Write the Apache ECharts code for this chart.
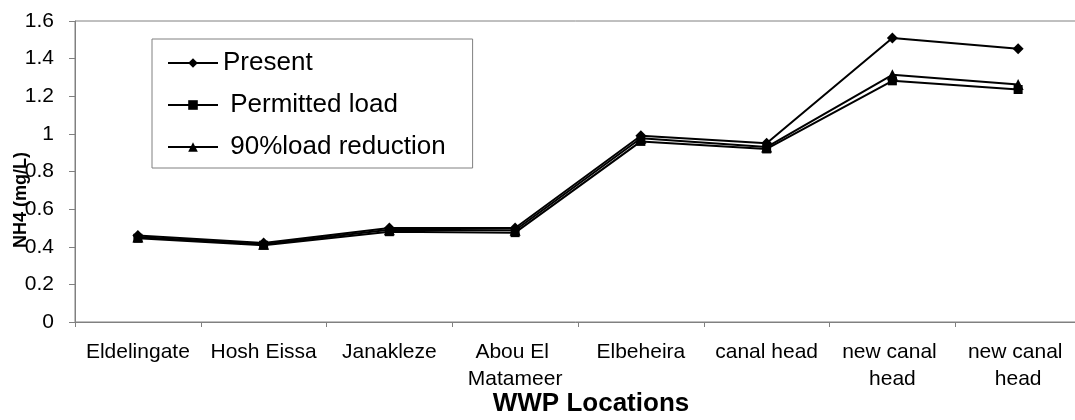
<!DOCTYPE html>
<html>
<head>
<meta charset="utf-8">
<script src="https://cdn.jsdelivr.net/npm/echarts@6/dist/echarts.min.js"></script>
<style>html,body{margin:0;padding:0;background:#fff;}#c{width:1075px;height:420px;}</style>
</head>
<body>
<div id="c"></div>
<script>
var categories = ["Eldelingate", "Hosh Eissa", "Janakleze", "Abou El Matameer", "Elbeheira", "canal head", "new canal head", "new canal head"];
var present = [0.46, 0.42, 0.50, 0.50, 0.99, 0.95, 1.51, 1.452];
var permitted = [0.445, 0.408, 0.48, 0.475, 0.96, 0.92, 1.282, 1.236];
var reduction90 = [0.452, 0.413, 0.49, 0.488, 0.977, 0.93, 1.314, 1.262];
var seriesNames = ["Present", " Permitted load", " 90%load reduction"];
var yTicks = { min: 0, max: 1.6, interval: 0.2 };

var FONT = '"Liberation Sans", Arial, sans-serif';
var chart = echarts.init(document.getElementById('c'), null, { renderer: 'canvas' });

function lineSeries(name, data, symbol, size) {
  return {
    name: name, type: 'line', data: data,
    symbol: symbol, symbolSize: size,
    lineStyle: { color: '#000', width: 2 },
    itemStyle: { color: '#000' },
    emphasis: { disabled: true },
    animation: false
  };
}

chart.setOption({
  animation: false,
  backgroundColor: '#fff',
  grid: {
    left: 75, top: 21, width: 1006, height: 301,
    outerBoundsMode: 'none', containLabel: false,
    show: true, borderColor: '#808080', borderWidth: 1, backgroundColor: 'transparent'
  },
  legend: {
    orient: 'vertical', left: 152, top: 39,
    backgroundColor: '#fff', borderColor: '#808080', borderWidth: 1,
    padding: [11, 27, 8, 15],
    itemWidth: 50, itemHeight: 12, itemGap: 16,
    textStyle: { fontFamily: FONT, fontSize: 26, color: '#000' },
    data: seriesNames
  },
  xAxis: {
    type: 'category', data: categories, boundaryGap: true,
    axisLine: { lineStyle: { color: '#808080', width: 1 } },
    axisTick: { show: true, length: 5, lineStyle: { color: '#808080' } },
    axisLabel: {
      interval: 0, margin: 17, fontFamily: FONT, fontSize: 21, color: '#000',
      width: 122, overflow: 'break', lineHeight: 27, align: 'center'
    },
    splitLine: { show: false }
  },
  yAxis: {
    type: 'value', min: yTicks.min, max: yTicks.max, interval: yTicks.interval,
    axisLine: { show: true, lineStyle: { color: '#808080', width: 1 } },
    axisTick: { show: true, length: 6, lineStyle: { color: '#808080' } },
    axisLabel: { margin: 21, fontFamily: FONT, fontSize: 21, color: '#000' },
    splitLine: { show: false }
  },
  graphic: [
    {
      type: 'text', x: 21, y: 200, rotation: Math.PI / 2,
      style: { text: 'NH4 (mg/L)', font: 'bold 18px ' + FONT, fill: '#000', align: 'center', verticalAlign: 'middle' }
    },
    {
      type: 'text', x: 591, y: 404,
      style: { text: 'WWP Locations', font: 'bold 26px ' + FONT, fill: '#000', align: 'center', verticalAlign: 'middle' }
    }
  ],
  series: [
    lineSeries(seriesNames[0], present, 'diamond', 11),
    lineSeries(seriesNames[1], permitted, 'rect', 9),
    lineSeries(seriesNames[2], reduction90, 'triangle', 11)
  ]
});
</script>
</body>
</html>
